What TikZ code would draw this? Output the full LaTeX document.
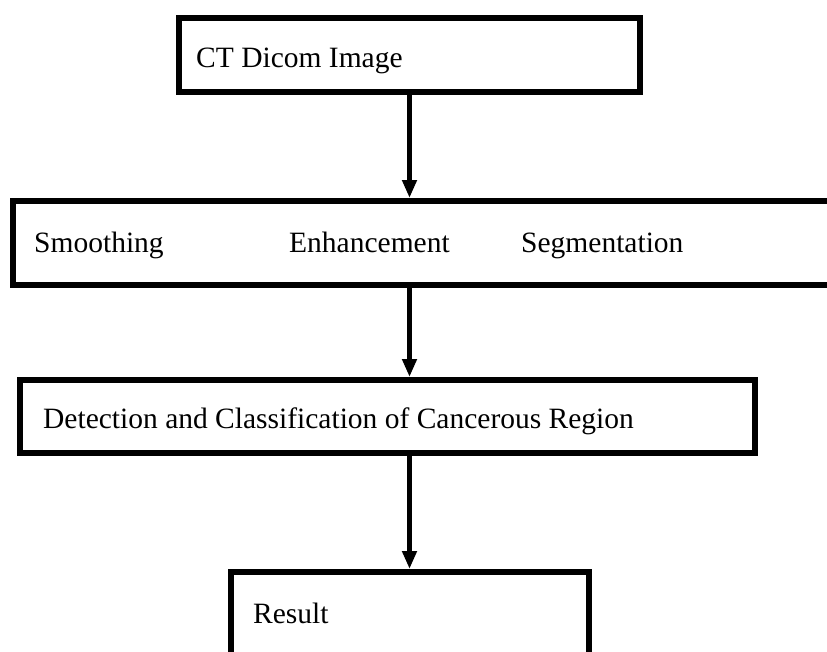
\documentclass[tikz,border=0pt]{standalone}
\usepackage{fontspec}
\setmainfont{Liberation Serif}
\usetikzlibrary{arrows.meta}
\tikzset{
    box/.style={rectangle, draw, line width=6pt, inner sep=0pt},
    lbl/.style={anchor=base west, inner sep=0pt, font=\fontsize{29.5}{35}\selectfont},
    arr/.style={line width=5pt, -{Triangle[length=18pt, width=14pt]}}
}

\begin{document}
\begin{tikzpicture}[x=1pt, y=-1pt]
  \useasboundingbox (0,0) rectangle (827,651);
  \clip (0,0) rectangle (827,651);

  \node (ct) [box, minimum width=461pt, minimum height=74pt] at (409.5, 55) {};
  \node (mid) [box, minimum width=827pt, minimum height=84pt] at (426.5, 243) {};
  \node (det) [box, minimum width=735pt, minimum height=73pt] at (387.5, 416.5) {};
  \node (res) [box, minimum width=358pt, minimum height=118pt] at (409.5, 631) {};

  \node (ctText) [lbl] at (196, 67) {CT Dicom Image};
  \node (smooth) [lbl] at (34, 252) {Smoothing};
  \node (enh) [lbl] at (289, 252) {Enhancement};
  \node (seg) [lbl] at (521, 252) {Segmentation};
  \node (detText) [lbl] at (43, 428) {Detection and Classification of Cancerous Region};
  \node (resText) [lbl] at (253, 623) {Result};

  \draw [arr] (ct.south) -- (ct.south |- mid.north);
  \draw [arr] (mid.south -| ct.south) -- (det.north -| ct.south);
  \draw [arr] (det.south -| res.north) -- (res.north);
\end{tikzpicture}
\end{document}
